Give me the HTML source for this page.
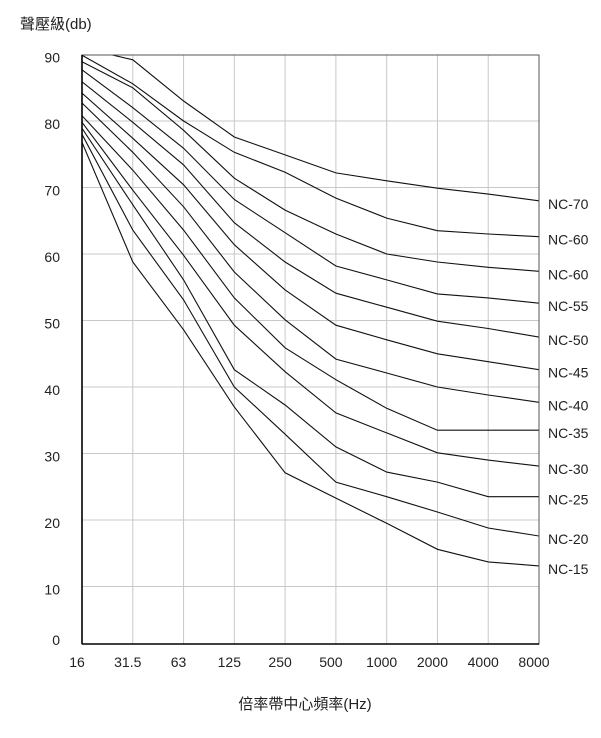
<!DOCTYPE html>
<html><head><meta charset="utf-8"><style>
html,body{margin:0;padding:0;background:#fff;}
svg{display:block;font-family:"Liberation Sans","Noto Sans CJK TC",sans-serif;}
</style></head><body>
<svg id="chart" width="601" height="738" viewBox="0 0 601 738" xmlns="http://www.w3.org/2000/svg">
<text x="20" y="29" font-size="15" fill="#222">聲壓級(db)</text>
<text x="305" y="709" font-size="15" fill="#222" text-anchor="middle">倍率帶中心頻率(Hz)</text>
<g id="grid"></g><g id="series"></g><g id="axes"></g><g id="labels"></g>
</svg>
<script>
const freqLabels = ["16","31.5","63","125","250","500","1000","2000","4000","8000"];
const yTicks = [90,80,70,60,50,40,30,20,10,0];
const curveNames = ["NC-70","NC-60","NC-60","NC-55","NC-50","NC-45","NC-40","NC-35","NC-30","NC-25","NC-20","NC-15"];
const nc70 = [91.0,89.2,83.0,77.6,74.9,72.2,71.0,69.9,69.0,68.0];
const nc60a = [89.9,85.6,80.0,75.3,72.3,68.4,65.4,63.5,63.0,62.6];
const nc60b = [88.9,85.0,78.6,71.4,66.6,63.0,60.0,58.8,58.0,57.4];
const nc55 = [87.7,82.0,75.9,68.2,63.2,58.2,56.1,54.0,53.4,52.6];
const nc50 = [85.9,79.8,73.4,64.7,58.8,54.1,52.0,49.9,48.8,47.5];
const nc45 = [84.2,77.4,70.4,61.4,54.6,49.3,47.1,45.0,43.8,42.6];
const nc40 = [82.7,75.3,67.1,57.3,50.1,44.2,42.1,40.0,38.8,37.7];
const nc35 = [80.8,72.6,63.6,53.4,45.9,41.1,36.8,33.5,33.5,33.5];
const nc30 = [79.8,69.6,59.8,49.3,42.3,36.1,33.1,30.1,29.0,28.1];
const nc25 = [78.9,67.4,56.1,42.6,37.3,31.0,27.2,25.7,23.5,23.5];
const nc20 = [78.0,63.6,53.1,40.0,32.9,25.7,23.5,21.2,18.8,17.6];
const nc15 = [76.8,58.8,48.6,37.0,27.1,23.3,19.5,15.6,13.7,13.1];
const seriesList = [nc70,nc60a,nc60b,nc55,nc50,nc45,nc40,nc35,nc30,nc25,nc20,nc15];

const X0=82, X1=539, TOP=55, BOT=644;
function xPos(i){ return X0 + i*(X1-X0)/(freqLabels.length-1); }
function yPos(v){ return 653 - v*6.65; }
const NS="http://www.w3.org/2000/svg";
function mk(tag, parent, attrs){ const e=document.createElementNS(NS,tag); for(const k in attrs) e.setAttribute(k,attrs[k]); parent.appendChild(e); return e; }
const svg=document.getElementById('chart');
const grid=document.getElementById('grid'), series=document.getElementById('series'), axes=document.getElementById('axes'), labels=document.getElementById('labels');

const defs=mk('defs',svg,{});
const cp=mk('clipPath',defs,{id:'plotclip'});
mk('rect',cp,{x:X0,y:TOP,width:X1-X0,height:BOT-TOP});
series.setAttribute('clip-path','url(#plotclip)');

freqLabels.forEach((f,i)=>{
  const x=xPos(i);
  if(i>0 && i<freqLabels.length-1){
    const g=mk('line',grid,{x1:x,x2:x,y1:TOP,y2:BOT,stroke:'#c8c8c8','stroke-width':1});
    
    
  }
  const t=mk('text',labels,{x:x-5,y:667,'font-size':14,fill:'#222','text-anchor':'middle'});
  t.textContent=f;
  
  
});
yTicks.forEach(v=>{
  const y=yPos(v);
  if(v>0 && v<90){
    const g=mk('line',grid,{x1:X0,x2:X1,y1:y,y2:y,stroke:'#c8c8c8','stroke-width':1});
    
    
  }
  const t=mk('text',labels,{x:60,y:Math.min(y+8,645),'font-size':14,fill:'#222','text-anchor':'end'});
  t.textContent=String(v);
  
  
});

seriesList.forEach((arr,k)=>{
  const pts=arr.map((v,i)=>xPos(i).toFixed(1)+','+yPos(v).toFixed(1)).join(' ');
  const pl=mk('polyline',series,{points:pts,fill:'none',stroke:'#111','stroke-width':1.1});
  
  
  const t=mk('text',labels,{x:548,y:yPos(arr[arr.length-1])+8,'font-size':14,fill:'#222'});
  t.textContent=curveNames[k];
  
  
});

const fr=mk('rect',axes,{x:X0,y:TOP,width:X1-X0,height:BOT-TOP,fill:'none',stroke:'#555','stroke-width':1});


const ya=mk('line',axes,{x1:X0,x2:X0,y1:TOP,y2:BOT,stroke:'#000','stroke-width':1.6});


const xa=mk('line',axes,{x1:X0,x2:X1,y1:BOT,y2:BOT,stroke:'#000','stroke-width':1.6});


</script>
</body></html>
